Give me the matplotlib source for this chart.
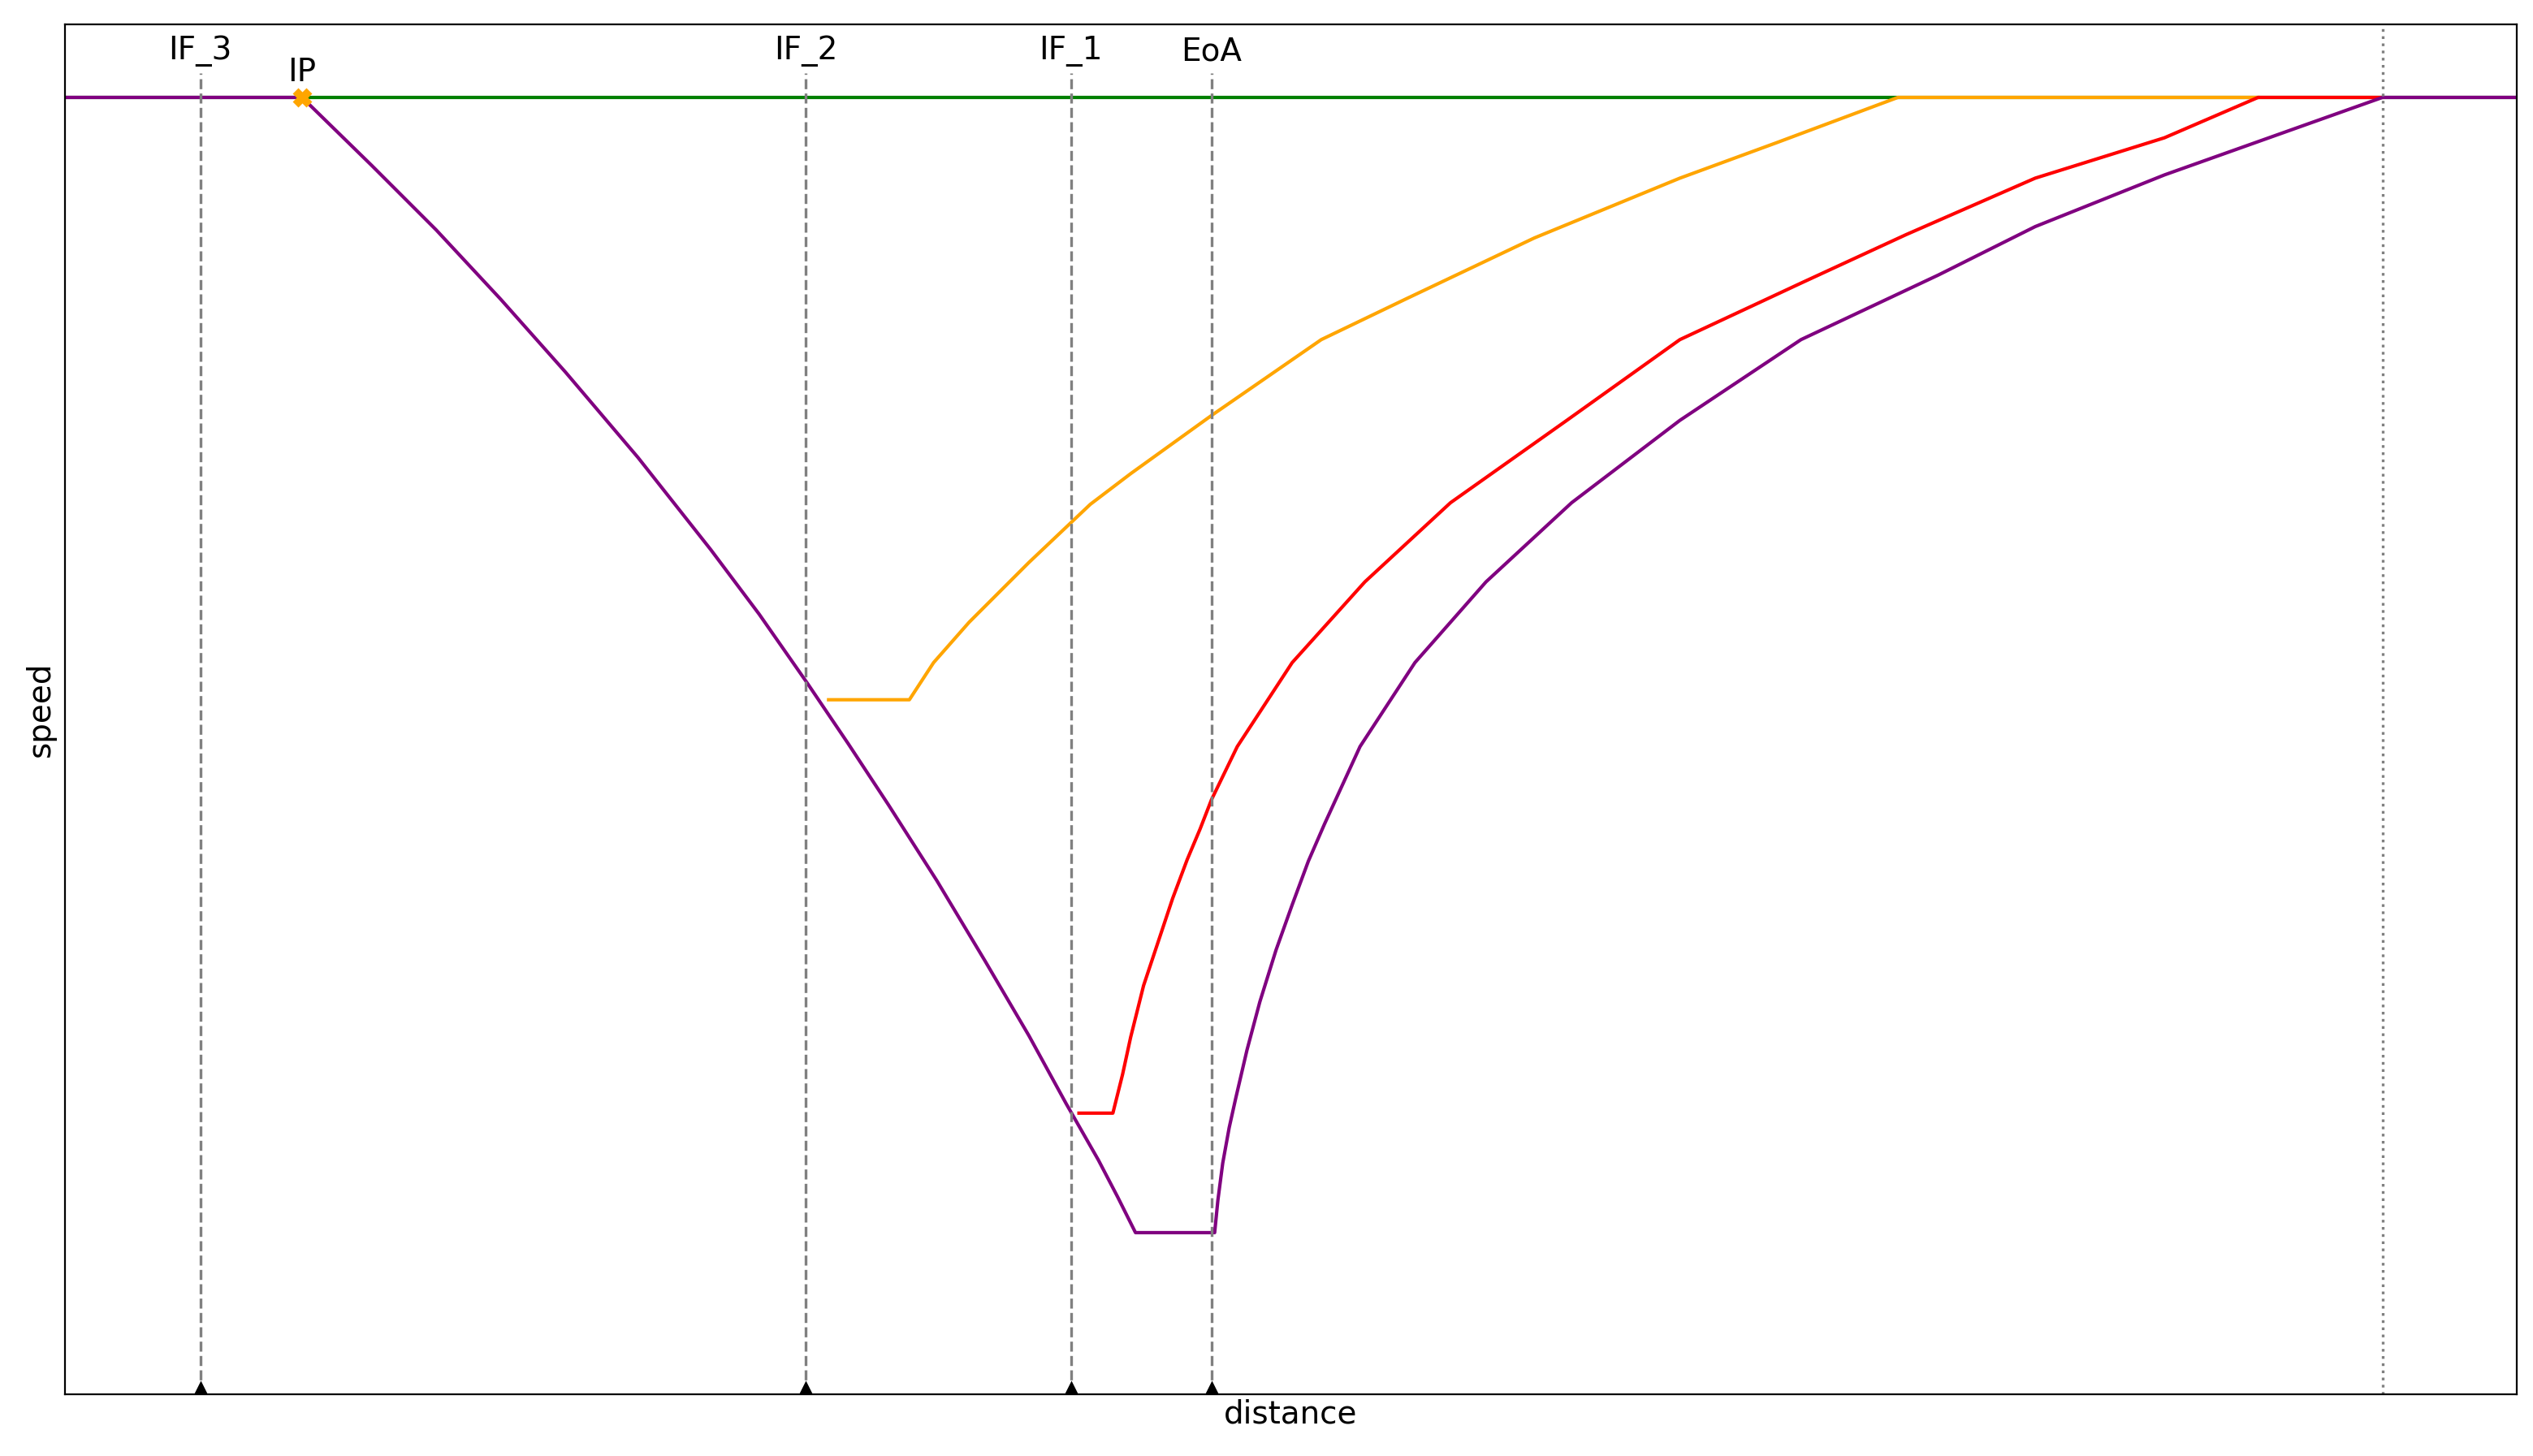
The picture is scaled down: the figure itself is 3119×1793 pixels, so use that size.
import matplotlib
matplotlib.use("Agg")
import matplotlib.pyplot as plt

# data in arbitrary distance/speed units
purple_x = [0, 147, 190, 230, 270, 310, 355, 400, 430, 460, 485, 510, 540, 570, 597, 620, 640, 652, 663, 712, 714, 717, 721, 725, 732, 740, 750, 760, 770, 780, 802, 836, 880, 933, 1000, 1075, 1160, 1220, 1300, 1435, 1518]
purple_y = [803, 803, 761, 721, 678, 633, 580, 523, 483, 440, 403, 365, 318, 268, 222, 180, 145, 122, 100, 100, 120, 143, 165, 183, 213, 243, 275, 303, 330, 353, 401, 453, 503, 552, 603, 653, 693, 723, 755, 803, 803]
red_x = [628, 649, 655, 660, 668, 678, 686, 695, 703, 710, 726, 760, 805, 858, 930, 1000, 1075, 1140, 1220, 1300, 1358, 1435]
red_y = [174, 174, 198, 221, 253, 283, 307, 331, 350, 368, 401, 453, 503, 552, 603, 653, 688, 718, 753, 778, 803, 803]
orange_x = [473, 523, 538, 560, 597, 635, 660, 710, 778, 830, 910, 1000, 1060, 1135, 1358]
orange_y = [430, 430, 453, 478, 515, 551, 570, 606, 653, 678, 716, 753, 775, 803, 803]
green_x = [0, 1518]
green_y = [803, 803]
markers_x = [84, 459, 623, 710]
markers_lbl = ["IF_3", "IF_2", "IF_1", "EoA"]
ip_x, ip_y = 147, 803
end_x = 1435

fig = plt.figure(figsize=(15.595, 8.965), dpi=200)
ax = fig.add_axes([0.0255, 0.0425, 0.968, 0.9405])
ax.set_xlim(0, 1518)
ax.set_ylim(0, 848)
ax.plot(green_x, green_y, color="green", lw=1.5)
ax.plot(orange_x, orange_y, color="orange", lw=1.5)
ax.plot(red_x, red_y, color="red", lw=1.5)
ax.plot(purple_x, purple_y, color="purple", lw=1.5)
for x, l in zip(markers_x, markers_lbl):
    ax.plot([x, x], [0, 818], color="gray", ls="--", lw=1.2)
    ax.text(x, 822, l, ha="center", va="bottom", fontsize=14)
    ax.plot([x], [0], marker="^", color="black", markersize=10)
ax.axvline(end_x, color="gray", ls=":", lw=1.2)
ax.plot([ip_x], [ip_y], marker="X", color="orange", markersize=7)
ax.text(ip_x, 809, "IP", ha="center", va="bottom", fontsize=14)
ax.set_xticks([])
ax.set_yticks([])
ax.set_xlabel("distance", fontsize=14, labelpad=2)
ax.set_ylabel("speed", fontsize=14, labelpad=4)
fig.savefig("out.png", dpi=200)
